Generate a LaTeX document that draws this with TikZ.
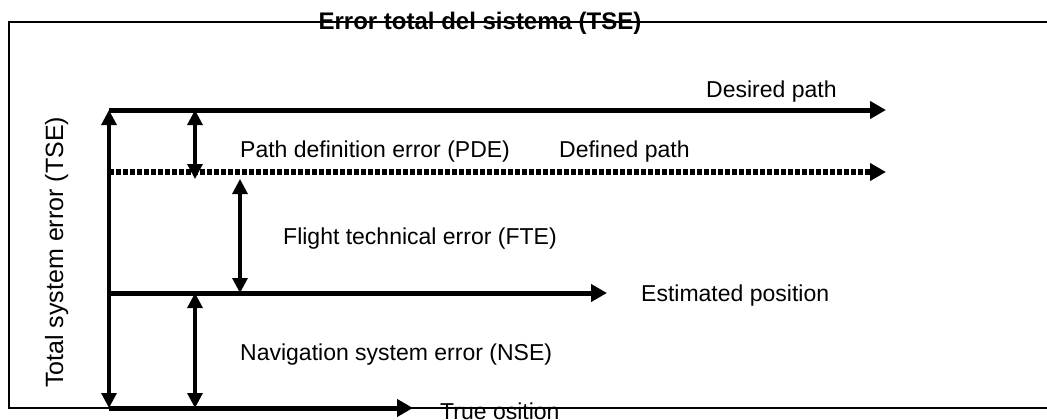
\documentclass[tikz,border=0pt]{standalone}
\usepackage{fontspec}
\setmainfont{Liberation Sans}
\usetikzlibrary{arrows.meta}

\begin{document}
\begin{tikzpicture}[x=1pt, y=-1pt,
  lbl/.style={inner sep=0, anchor=base west, font=\fontsize{23}{27}\selectfont},
  track/.style={line width=5pt, -{Triangle[length=16pt,width=17pt]}},
  gap/.style={line width=3.2pt, {Triangle[length=15pt,width=15pt]}-{Triangle[length=15pt,width=15pt]}}]

\useasboundingbox (0,0) rectangle (1047,420);

%Frame
\draw[line width=1.6pt] (1050,22) -- (9,22) -- (9,408) -- (1050,408);
\node[inner sep=0, anchor=base, font=\fontsize{24}{29}\selectfont\bfseries] (title) at (480,30) {Error total del sistema (TSE)};

%Paths
\coordinate (des0) at (109,110);
\coordinate (des1) at (886,110);
\coordinate (def0) at (109,172);
\coordinate (def1) at (886,172);
\coordinate (est0) at (109,293);
\coordinate (est1) at (607,293);
\coordinate (tru0) at (109,408);
\coordinate (tru1) at (413,408);

\draw[track] (des0) -- (des1);
\draw[track, line width=5.5pt, dash pattern=on 5pt off 2pt] (def0) -- (def1);
\draw[track] (est0) -- (est1);
\draw[track] (tru0) -- (tru1);

\node[lbl] (desired) at (706,97) {Desired path};
\node[lbl] (defined) at (559,157) {Defined path};
\node[lbl] (estimated) at (641,301) {Estimated position};
\node[lbl] (true) at (440,419) {True osition};

%Errors
\coordinate (pde0) at (195,110);
\coordinate (pde1) at (195,179);
\coordinate (fte0) at (240,179);
\coordinate (fte1) at (240,293);
\coordinate (nse0) at (195,293);
\coordinate (nse1) at (195,408);

\draw[gap] (des0) -- (tru0);
\draw[gap] (pde0) -- (pde1);
\draw[gap] (fte0) -- (fte1);
\draw[gap] (nse0) -- (nse1);

\node[lbl] (pde) at (240,157) {Path definition error (PDE)};
\node[lbl] (fte) at (283,244) {Flight technical error (FTE)};
\node[lbl] (nse) at (240,360) {Navigation system error (NSE)};
\node[lbl, rotate=90, font=\fontsize{25}{30}\selectfont] (tse) at (63,388) {Total system error (TSE)};

\end{tikzpicture}
\end{document}
